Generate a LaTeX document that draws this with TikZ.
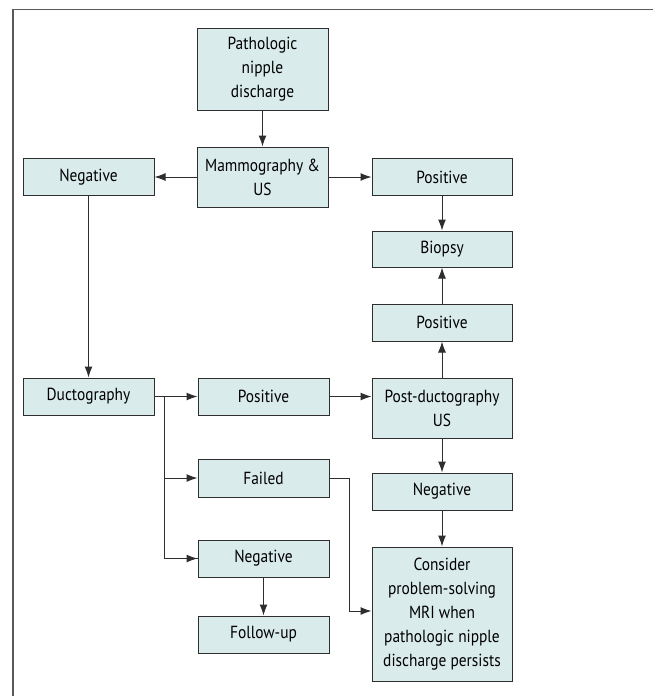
\documentclass[tikz,border=0pt]{standalone}
\usepackage{fontspec}
\setmainfont[FakeStretch=0.88]{PT Sans}
\usetikzlibrary{arrows.meta}
\definecolor{boxfill}{HTML}{DAEBEC}
\definecolor{boxline}{HTML}{2E2E2E}
\tikzset{
  stepbox/.style={draw=boxline,fill=boxfill,line width=1pt,inner sep=0pt,
    align=center,font=\fontsize{17.5}{24}\selectfont},
  wide/.style={minimum width=131pt},
  wider/.style={minimum width=140pt},
  link/.style={draw=boxline,line width=1pt}
}
\begin{document}
\begin{tikzpicture}[x=1pt,y=-1pt,>={Latex[length=11pt,width=8pt]}]
\useasboundingbox (0,0) rectangle (653,696);
% frame, cut off at right and bottom
\draw[gray!70!black,line width=1.2pt] (13,696) -- (13,9.5) -- (653,9.5);

% middle column
\node (start)  [stepbox,wide,minimum height=82pt] at (262.5,69) {Pathologic\\nipple\\discharge};
\node (mammo)  [stepbox,wide,minimum height=60pt] at (262.5,177) {Mammography \&\\US};
\node (posduct)[stepbox,wide,minimum height=37pt] at (263.5,396.5) {Positive};
\node (failed) [stepbox,wide,minimum height=38pt] at (263.5,478) {Failed};
\node (negduct)[stepbox,wide,minimum height=37pt] at (263.5,558.5) {Negative};
\node (follow) [stepbox,wide,minimum height=37pt] at (263.5,634.5) {Follow-up};

% left column
\node (negmam) [stepbox,wide,minimum height=37pt] at (88.5,177) {Negative};
\node (duct)   [stepbox,wide,minimum height=37pt] at (88.5,396.5) {Ductography};

% right column
\node (posmam) [stepbox,wider,minimum height=37pt] at (442,177) {Positive};
\node (biopsy) [stepbox,wider,minimum height=36pt] at (442,249) {Biopsy};
\node (posus)  [stepbox,wider,minimum height=37pt] at (442,322.5) {Positive};
\node (postus) [stepbox,wider,minimum height=60pt] at (442,408) {Post-ductography\\US};
\node (negus)  [stepbox,wider,minimum height=37pt] at (442,491.5) {Negative};
\node (mri)    [stepbox,wider,minimum height=134pt] at (442,614) {Consider\\problem-solving\\MRI when\\pathologic nipple\\discharge persists};

% arrows
\draw[link,->] (start) -- (mammo);
\draw[link,->] (mammo) -- (negmam);
\draw[link,->] (mammo) -- (posmam);
\draw[link,->] (posmam) -- (biopsy);
\draw[link,->] (negmam) -- (duct);
\draw[link,->] (posduct) -- (postus.west |- posduct);
\draw[link,->] (postus) -- (posus);
\draw[link,->] (posus) -- (biopsy);
\draw[link,->] (postus) -- (negus);
\draw[link,->] (negus) -- (mri);
\draw[link,->] (negduct) -- (follow);

% ductography branches
\coordinate (fork) at (164.5,396.5);
\draw[link,->] (duct) -- (posduct);
\draw[link] (fork) |- (negduct.west);
\draw[link,->] (fork |- failed) -- (failed);
\draw[link,->] (fork |- negduct) -- (negduct);

% failed goes round to MRI
\coordinate (bend) at (349,611);
\draw[link,->] (failed.east) -| (bend) -- (mri.west |- bend);

\end{tikzpicture}
\end{document}
